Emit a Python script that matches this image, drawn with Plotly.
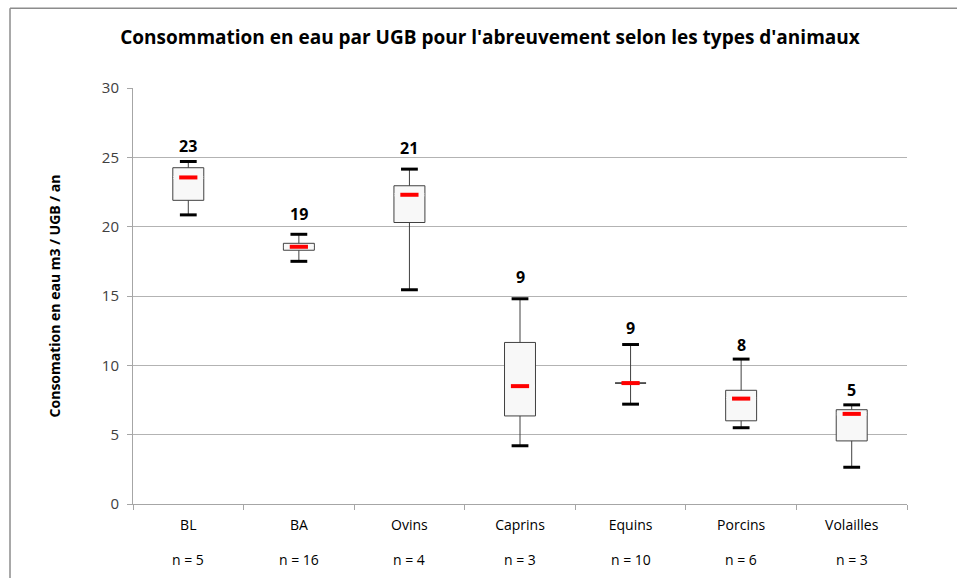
import plotly.graph_objects as go

# --- data ---
categories = ["BL", "BA", "Ovins", "Caprins", "Equins", "Porcins", "Volailles"]
n_labels = ["n = 5", "n = 16", "n = 4", "n = 3", "n = 10", "n = 6", "n = 3"]
whisker_low = [20.85, 17.5, 15.45, 4.2, 7.2, 5.5, 2.65]
q1 = [21.9, 18.3, 20.3, 6.35, 8.72, 6.0, 4.55]
median = [23.55, 18.55, 22.3, 8.5, 8.72, 7.6, 6.5]
q3 = [24.25, 18.8, 22.95, 11.65, 8.72, 8.2, 6.8]
whisker_high = [24.7, 19.45, 24.15, 14.8, 11.5, 10.45, 7.15]
mean_labels = ["23", "19", "21", "9", "9", "8", "5"]

FONT = "Open Sans"

fig = go.Figure()

# boxes + thin whiskers
fig.add_trace(go.Box(
    x=categories, q1=q1, median=median, q3=q3,
    lowerfence=whisker_low, upperfence=whisker_high,
    width=0.28, whiskerwidth=0.5,
    fillcolor="#f8f8f8", line=dict(color="#404040", width=1),
    boxpoints=False, hoverinfo="skip", showlegend=False,
))

# hide the box's own median line (only the red bar shows), except flat boxes
open_boxes = [i for i in range(len(categories)) if q3[i] > q1[i]]
fig.add_trace(go.Scatter(
    x=[categories[i] for i in open_boxes], y=[median[i] for i in open_boxes],
    mode="markers",
    marker=dict(symbol="line-ew", size=21.4, line=dict(color="#f8f8f8", width=3)),
    hoverinfo="skip", showlegend=False,
))

# thick black caps on whiskers
fig.add_trace(go.Scatter(
    x=categories + categories, y=whisker_low + whisker_high, mode="markers",
    marker=dict(symbol="line-ew", size=12, line=dict(color="black", width=3)),
    hoverinfo="skip", showlegend=False,
))

# red median bars
fig.add_trace(go.Scatter(
    x=categories, y=median, mode="markers",
    marker=dict(symbol="line-ew", size=13, line=dict(color="#ff0000", width=4)),
    hoverinfo="skip", showlegend=False,
))

# mean labels above the upper whisker (hand placed in the original, so offsets vary)
label_lift = [15, 20, 21, 22, 17, 14, 15]
for c, yv, t, dy in zip(categories, whisker_high, mean_labels, label_lift):
    fig.add_annotation(x=c, y=yv, text=f"<b>{t}</b>", showarrow=False,
                       yanchor="middle", yshift=dy,
                       font=dict(family=FONT, size=16, color="black"))

# n = ... under the category labels
for c, n in zip(categories, n_labels):
    fig.add_annotation(x=c, y=0, xref="x", yref="paper", yanchor="middle",
                       yshift=-55, text=n, showarrow=False,
                       font=dict(family=FONT, size=14, color="black"))

# outer chart frame (only left and top edges are in view)
frame = dict(color="#8c8c8c", width=1.5)
fig.add_shape(type="line", xref="paper", yref="paper",
              x0=-0.1589, x1=-0.1589, y0=-0.4, y1=1.192, line=frame)
fig.add_shape(type="line", xref="paper", yref="paper",
              x0=-0.1589, x1=1.3, y0=1.192, y1=1.192, line=frame)

fig.update_layout(
    width=957, height=578,
    margin=dict(l=133, r=50, t=88, b=74),
    plot_bgcolor="white", paper_bgcolor="white",
    font=dict(family=FONT, color="black"),
    title=dict(text="<b>Consommation en eau par UGB pour l'abreuvement selon les types d'animaux</b>",
               x=0.512, xanchor="center", y=0.936, yanchor="middle",
               font=dict(size=19, color="black")),
    xaxis=dict(showline=True, linecolor="#a6a6a6", ticks="outside",
               tickson="boundaries", ticklen=5, tickcolor="#a6a6a6",
               ticklabelstandoff=8,
               tickfont=dict(size=14, color="#000000"), showgrid=False,
               range=[-0.5, 6.5]),
    yaxis=dict(range=[0, 30], dtick=5, showline=True, linecolor="#a6a6a6",
               ticks="outside", ticklen=5, tickcolor="#a6a6a6",
               ticklabelstandoff=5,
               tickfont=dict(size=15, color="#404040"),
               gridcolor="#b3b3b3", gridwidth=1, zeroline=False,
               title=dict(text="<b>Consomation en eau m3 / UGB / an</b>",
                          font=dict(size=14, color="black"), standoff=37)),
)

# drop the page's default body margin so the figure fills the window exactly
fig.write_html("out.html", config={"displayModeBar": False},
               post_script="document.body.style.margin='0';")
